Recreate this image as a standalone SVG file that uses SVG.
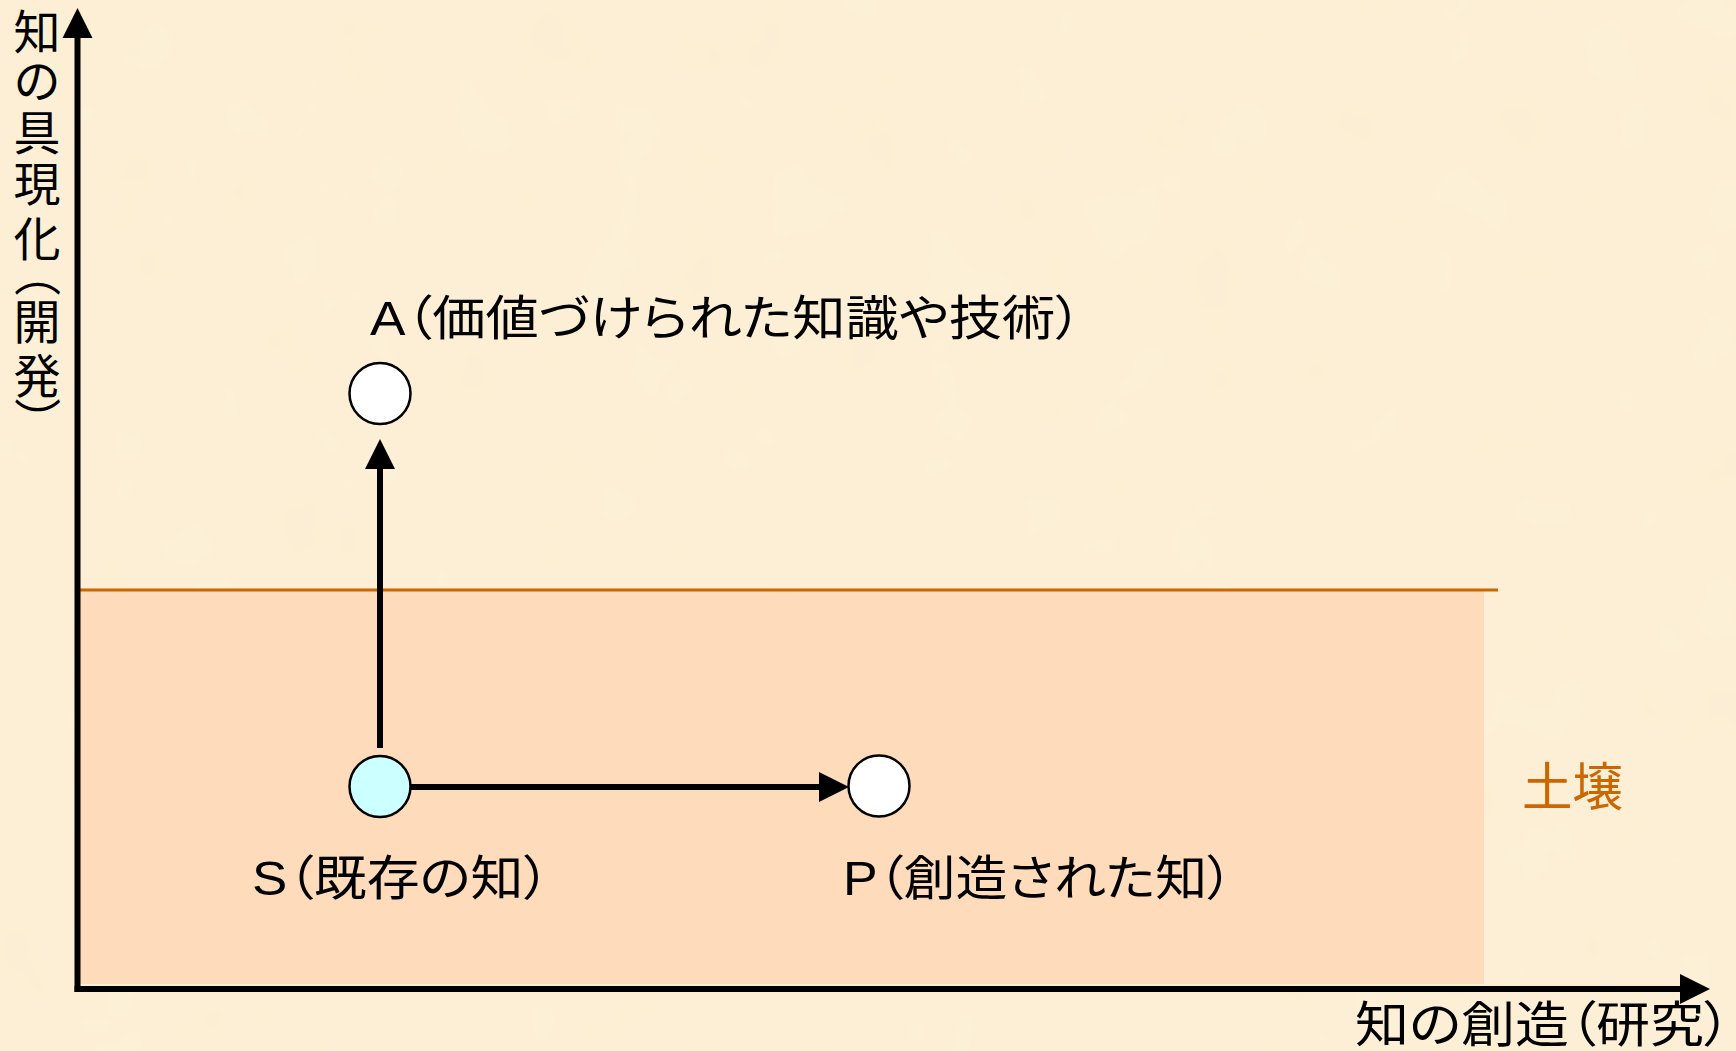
<svg xmlns="http://www.w3.org/2000/svg" width="1736" height="1051" viewBox="0 0 1736 1051">
<style>
.t{font-family:"Liberation Sans","Noto Sans CJK JP",sans-serif;fill:#000;font-feature-settings:"palt"}
.v{font-family:"Noto Sans CJK JP",sans-serif;font-size:47px;fill:#000}
.vc{text-anchor:middle}
.node{stroke:#000;stroke-width:2.5}
.conn{stroke:#000;stroke-width:6;fill:none}
</style>
<defs>
<filter id="tex" x="0" y="0" width="100%" height="100%">
<feTurbulence type="fractalNoise" baseFrequency="0.012" numOctaves="3" seed="4"/>
<feColorMatrix type="matrix" values="0 0 0 0 0.97  0 0 0 0 0.90  0 0 0 0 0.74  0 0 0 0.4 0"/>
</filter>
<marker id="ah" markerUnits="userSpaceOnUse" markerWidth="31" markerHeight="31" refX="0" refY="15" orient="auto" viewBox="0 0 31 30">
<path d="M0,0 L30,15 L0,30 z" fill="#000"/>
</marker>
</defs>
<rect width="1736" height="1051" fill="#FCEED3"/>
<rect width="1736" height="1051" filter="url(#tex)"/>
<g id="soil">
<rect x="78" y="590" width="1406" height="394" fill="#FDDBBB"/>
<line x1="78" y1="590" x2="1498" y2="590" stroke="#CC6600" stroke-width="3"/>
<text class="t" x="1522" y="806" font-size="52" style="fill:#CC6600" textLength="101" lengthAdjust="spacingAndGlyphs">土壌</text>
</g>
<g id="axes">
<line class="conn" x1="77.5" y1="992" x2="77.5" y2="38" marker-end="url(#ah)"/>
<line class="conn" x1="74.5" y1="989" x2="1680" y2="989" marker-end="url(#ah)"/>
<g id="y-label">
<text class="v vc" x="37" y="49">知</text>
<text class="v vc" x="37" y="98">の</text>
<text class="v vc" x="37" y="150">具</text>
<text class="v vc" x="37" y="201">現</text>
<text class="v vc" x="37" y="256">化</text>
<text class="v" x="-35" y="17" transform="translate(37,285) rotate(90)">（</text>
<text class="v vc" x="37" y="339">開</text>
<text class="v vc" x="37" y="393">発</text>
<text class="v" x="-12" y="17" transform="translate(37,409) rotate(90)">）</text>
</g>
<text id="x-label" class="t" x="1355" y="1042" font-size="49" textLength="376" lengthAdjust="spacingAndGlyphs">知の創造（研究）</text>
</g>
<g id="connectors">
<line class="conn" x1="380" y1="748" x2="380" y2="469" marker-end="url(#ah)"/>
<line class="conn" x1="411" y1="787" x2="819" y2="787" marker-end="url(#ah)"/>
</g>
<g id="node-A">
<circle class="node" cx="380" cy="393.5" r="30.5" fill="#FFFFFF"/>
<text class="t" x="370" y="335" font-size="48" textLength="712" lengthAdjust="spacingAndGlyphs">A（価値づけられた知識や技術）</text>
</g>
<g id="node-S">
<circle class="node" cx="380" cy="786.5" r="30.5" fill="#CCFFFF"/>
<text class="t" x="252" y="895" font-size="48" textLength="298" lengthAdjust="spacingAndGlyphs">S（既存の知）</text>
</g>
<g id="node-P">
<circle class="node" cx="879" cy="786" r="30.5" fill="#FFFFFF"/>
<text class="t" x="843" y="895" font-size="48" textLength="390" lengthAdjust="spacingAndGlyphs">P（創造された知）</text>
</g>
</svg>
